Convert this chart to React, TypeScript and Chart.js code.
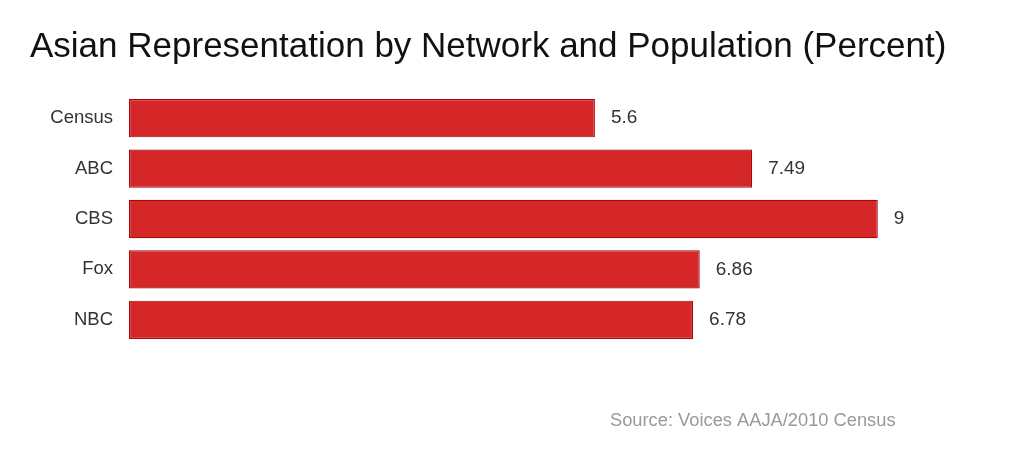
import React, { useEffect, useRef } from "react";
import { Chart, registerables } from "chart.js";

Chart.register(...registerables);

const categories = ["Census", "ABC", "CBS", "Fox", "NBC"];
const values = [5.6, 7.49, 9, 6.86, 6.78];
const valueLabels = ["5.6", "7.49", "9", "6.86", "6.78"];
const titleText = "Asian Representation by Network and Population (Percent)";
const sourceText = "Source: Voices AAJA/2010 Census";

const FONT = "'Liberation Sans', Arial, Helvetica, sans-serif";

const textPlugin = {
  id: "textPlugin",
  afterDatasetsDraw(chart: any) {
    const ctx = chart.ctx;
    ctx.save();
    ctx.fillStyle = "#111";
    ctx.font = `35px ${FONT}`;
    ctx.textAlign = "left";
    ctx.textBaseline = "alphabetic";
    ctx.fillText(titleText, 30, 57);
    const meta = chart.getDatasetMeta(0);
    ctx.fillStyle = "#333";
    ctx.font = `19px ${FONT}`;
    ctx.textBaseline = "middle";
    meta.data.forEach((bar: any, i: number) => {
      ctx.fillText(valueLabels[i], bar.x + 16, bar.y);
    });
    ctx.fillStyle = "#999";
    ctx.font = `18.3px ${FONT}`;
    ctx.fillText(sourceText, 610, 421);
    ctx.restore();
  },
};

export default function App() {
  const ref = useRef<HTMLCanvasElement>(null);
  useEffect(() => {
    if (!ref.current) return;
    const chart = new Chart(ref.current, {
      type: "bar",
      data: {
        labels: categories,
        datasets: [
          {
            data: values,
            backgroundColor: "#d62728",
            borderColor: "#a6070c",
            borderWidth: 1.2,
            borderSkipped: false,
            barPercentage: 0.76,
            categoryPercentage: 1,
          },
        ],
      },
      options: {
        indexAxis: "y",
        animation: false,
        responsive: false,
        maintainAspectRatio: false,
        layout: { padding: { top: 93, bottom: 110, right: 63, left: 0 } },
        plugins: {
          legend: { display: false },
          tooltip: { enabled: false },
          title: { display: false },
        },
        scales: {
          x: {
            display: false,
            min: 0,
            max: 10,
          },
          y: {
            grid: { display: false, drawTicks: false },
            border: { display: false },
            ticks: {
              color: "#333",
              padding: 16,
              font: { family: FONT, size: 18.5 },
            },
            afterFit(scale: any) {
              scale.width = 129;
            },
          },
        },
      },
      plugins: [textPlugin],
    });
    return () => chart.destroy();
  }, []);
  return (
    <div style={{ position: "fixed", left: 0, top: 0, width: 1024, height: 455, background: "#fff" }}>
      <canvas ref={ref} width={1024} height={455} style={{ width: 1024, height: 455 }} />
    </div>
  );
}
